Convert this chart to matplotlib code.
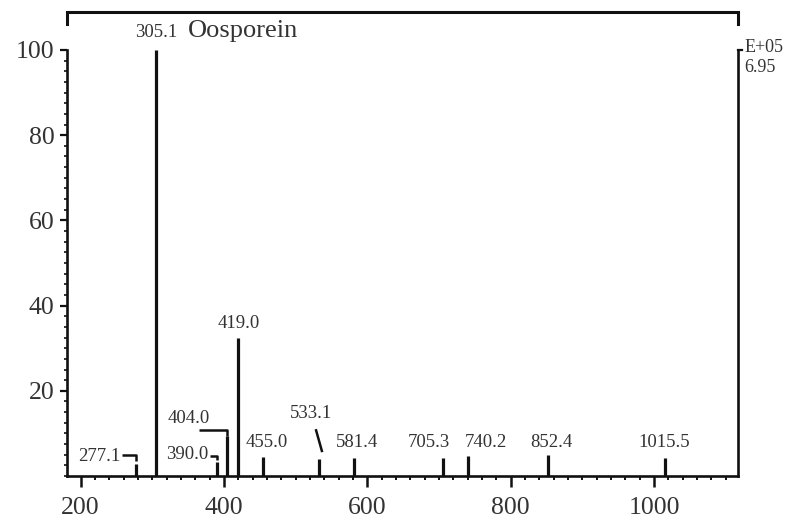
import matplotlib
matplotlib.use("Agg")
import matplotlib.pyplot as plt
from matplotlib.ticker import MultipleLocator, FixedLocator

plt.rcParams['font.family'] = ['Liberation Serif', 'DejaVu Serif']

# Mass spectrum peaks (m/z, relative intensity %)
mz = [277.1, 305.1, 390.0, 404.0, 419.0, 455.0, 533.1, 581.4, 705.3, 740.2, 852.4, 1015.5]
intensity = [2.8, 100, 3.2, 9.5, 32.5, 4.5, 4.0, 4.2, 4.2, 4.7, 4.9, 4.2]
peak_labels = ["277.1", "305.1", "390.0", "404.0", "419.0", "455.0", "533.1",
               "581.4", "705.3", "740.2", "852.4", "1015.5"]
compound = "Oosporein"
scale_text = ["E+05", "6.95"]
xticks = [200, 400, 600, 800, 1000]
yticks = [20, 40, 60, 80, 100]

# Label placement (x, y, horizontal alignment) in data units
label_pos = [(255, 4.6, 'right'), (305.1, 103.0, 'center'), (378, 5.0, 'right'),
             (351, 13.4, 'center'), (420, 35.9, 'center'), (459, 7.9, 'center'),
             (522, 14.6, 'center'), (585, 7.9, 'center'), (686, 7.9, 'center'),
             (765, 7.9, 'center'), (856, 7.9, 'center'), (1014, 7.9, 'center')]

# Leader lines joining some labels to their peaks
leaders = [
    [(258, 4.9), (277.1, 4.9), (277.1, 3.6)],
    [(381, 4.6), (390.0, 4.6), (390.0, 3.8)],
    [(365, 10.9), (404.0, 10.9), (404.0, 9.5)],
    [(528, 11.0), (537, 5.6)],
]

fig = plt.figure(figsize=(7.9, 5.2), dpi=100)
ax = fig.add_axes([0.0848, 0.0846, 0.8494, 0.9094])
ax.set_xlim(181, 1117)
ax.set_ylim(0, 111)

ink = '#111111'
txt = '#333333'

ax.vlines(mz, 0, intensity, color=ink, lw=2.3)

for lab, (x, y, ha), in zip(peak_labels, label_pos):
    va = 'baseline' if lab == "305.1" else 'center'
    ax.text(x, y, lab, ha=ha, va=va, fontsize=13.5, color=txt)
ax.text(350, 103.0, compound, ha='left', va='baseline', fontsize=19, color=txt)

for seg in leaders:
    xs, ys = zip(*seg)
    ax.plot(xs, ys, color=ink, lw=1.8, solid_capstyle='butt')

# Top bracket above the plot area
ax.plot([181, 181, 1117, 1117], [106.2, 108.8, 108.8, 106.2], color=ink, lw=2.2,
        clip_on=False, solid_joinstyle='miter')

for s in ['left', 'right', 'bottom']:
    ax.spines[s].set_linewidth(1.9)
    ax.spines[s].set_color(ink)
ax.spines['top'].set_visible(False)
ax.spines['left'].set_bounds(0, 100)
ax.spines['right'].set_bounds(0, 100)

ax.xaxis.set_major_locator(FixedLocator(xticks))
ax.xaxis.set_minor_locator(MultipleLocator(20))
ax.yaxis.set_major_locator(FixedLocator(yticks))
ax.yaxis.set_minor_locator(FixedLocator([i * 2.5 for i in range(41)]))
ax.tick_params(axis='x', which='major', direction='out', length=8, width=1.8,
               labelsize=18.5, pad=7, colors=ink, labelcolor=txt)
ax.tick_params(axis='x', which='minor', direction='out', length=3, width=1.4, colors=ink)
ax.tick_params(axis='y', which='major', direction='out', length=5, width=1.6,
               labelsize=18.5, pad=4, colors=ink, labelcolor=txt)
ax.tick_params(axis='y', which='minor', direction='out', length=2, width=1.2, colors=ink)
ax.tick_params(axis='y', which='both', right=False)

# Small mark at the top of the right axis with the scale note
ax.plot([1117, 1122], [100, 100], color=ink, lw=1.6, clip_on=False)
ax.text(1126, 100.5, scale_text[0], ha='left', va='center', fontsize=13, color=txt,
        clip_on=False)
ax.text(1126, 95.8, scale_text[1], ha='left', va='center', fontsize=13, color=txt,
        clip_on=False)

fig.savefig("out.png", dpi=100)
